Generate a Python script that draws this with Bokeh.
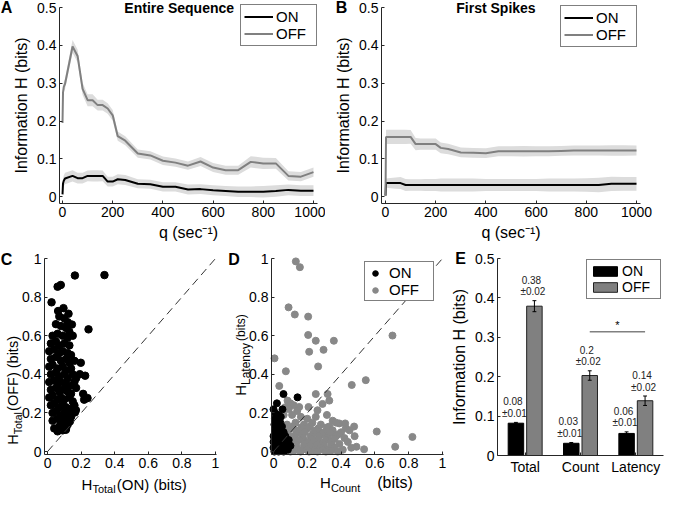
import numpy as np
from bokeh.plotting import figure
from bokeh.models import Range1d, FixedTicker, Label, Legend, LegendItem
from bokeh.layouts import row, column
from bokeh.embed import file_html
from bokeh.resources import INLINE
from bokeh.core.properties import value

FONT = "Liberation Sans"
AX = "#262626"
GRAY = "#808080"
DGRAY = "#888888"
BAND = "#dcdcdc"

# ---------------- data: panels A and B ----------------
q = [0, 2, 5, 10, 40, 60, 80, 100, 120, 140, 160, 180, 200, 220, 250, 300, 350,
     400, 450, 500, 550, 600, 650, 700, 750, 800, 850, 900, 950, 1000]
a_off = [0.195, 0.275, 0.29, 0.298, 0.397, 0.372, 0.285, 0.255, 0.255, 0.242,
         0.242, 0.233, 0.215, 0.160, 0.148, 0.114, 0.109, 0.095, 0.090, 0.082,
         0.093, 0.077, 0.070, 0.070, 0.092, 0.088, 0.088, 0.055, 0.053, 0.065]
a_off_sem = [0.008, 0.012, 0.013, 0.014, 0.017, 0.017, 0.016, 0.016, 0.016, 0.014,
             0.014, 0.014, 0.014, 0.012, 0.012, 0.011, 0.011, 0.011, 0.011, 0.011,
             0.012, 0.012, 0.012, 0.012, 0.015, 0.015, 0.014, 0.012, 0.012, 0.012]
a_on = [0.006, 0.035, 0.042, 0.048, 0.055, 0.049, 0.049, 0.055, 0.055, 0.055,
        0.055, 0.040, 0.040, 0.046, 0.044, 0.034, 0.033, 0.026, 0.026, 0.019,
        0.020, 0.017, 0.015, 0.013, 0.013, 0.013, 0.015, 0.018, 0.016, 0.016]
a_on_sem = [0.005, 0.012, 0.014, 0.015, 0.015, 0.014, 0.014, 0.014, 0.015, 0.015,
            0.014, 0.013, 0.013, 0.013, 0.013, 0.012, 0.012, 0.012, 0.012, 0.013,
            0.013, 0.013, 0.013, 0.014, 0.014, 0.015, 0.015, 0.014, 0.014, 0.014]
b_off = [0.002, 0.158, 0.158, 0.158, 0.158, 0.158, 0.158, 0.158, 0.139, 0.139,
         0.139, 0.139, 0.139, 0.129, 0.126, 0.117, 0.116, 0.115, 0.120, 0.120,
         0.120, 0.120, 0.120, 0.121, 0.122, 0.122, 0.122, 0.122, 0.122, 0.122]
b_off_sem = [0.003, 0.019, 0.019, 0.019, 0.019, 0.019, 0.019, 0.018, 0.016, 0.015,
             0.015, 0.015, 0.015, 0.014, 0.014, 0.013, 0.013, 0.013, 0.013, 0.013,
             0.014, 0.013, 0.013, 0.013, 0.013, 0.013, 0.013, 0.014, 0.014, 0.013]
b_on = [0.003, 0.036, 0.036, 0.036, 0.036, 0.036, 0.031, 0.031, 0.031, 0.031,
        0.031, 0.031, 0.031, 0.031, 0.031, 0.031, 0.031, 0.031, 0.031, 0.031,
        0.031, 0.031, 0.031, 0.031, 0.031, 0.031, 0.031, 0.034, 0.034, 0.034]
b_on_sem = [0.003, 0.012, 0.012, 0.013, 0.015, 0.016, 0.016, 0.015, 0.015, 0.015,
            0.016, 0.016, 0.016, 0.017, 0.017, 0.017, 0.017, 0.016, 0.016, 0.016,
            0.016, 0.016, 0.017, 0.017, 0.017, 0.018, 0.019, 0.019, 0.018, 0.018]
q_ticks = [0, 200, 400, 600, 800, 1000]
q_labels = ["0", "200", "400", "600", "800", "1000"]
h_ticks = [0, 0.1, 0.2, 0.3, 0.4, 0.5]
h_labels = ["0", "0.1", "0.2", "0.3", "0.4", "0.5"]
u_ticks = [0, 0.2, 0.4, 0.6, 0.8, 1]
u_labels = ["0", "0.2", "0.4", "0.6", "0.8", "1"]
diag = [0, 1]

# ---------------- data: panel C (H_Total ON vs OFF) ----------------
c_iso_x = [0.163, 0.339, 0.060, 0.079, 0.024, 0.063, 0.095, 0.125, 0.145, 0.244, 0.198,
           0.192, 0.224, 0.212, 0.238, 0.218, 0.169, 0.163, 0.133, 0.109, 0.060]
c_iso_y = [0.912, 0.914, 0.854, 0.863, 0.773, 0.728, 0.743, 0.714, 0.658, 0.633, 0.460,
           0.401, 0.393, 0.299, 0.277, 0.269, 0.215, 0.203, 0.156, 0.113, 0.105]
c_cl_x = [0.07, 0.10, 0.12, 0.05, 0.08, 0.11, 0.13, 0.03, 0.06, 0.09, 0.12, 0.15,
          0.02, 0.05, 0.07, 0.10, 0.13, 0.01, 0.04, 0.07, 0.09, 0.12, 0.14,
          0.02, 0.05, 0.08, 0.11, 0.13, 0.16, 0.01, 0.03, 0.06, 0.09, 0.11, 0.14,
          0.02, 0.05, 0.07, 0.10, 0.12, 0.15, 0.17, 0.01, 0.04, 0.06, 0.08, 0.11, 0.13, 0.16,
          0.02, 0.05, 0.07, 0.09, 0.12, 0.14, 0.17, 0.01, 0.03, 0.06, 0.08, 0.10, 0.13, 0.15,
          0.02, 0.04, 0.07, 0.09, 0.11, 0.13, 0.16, 0.03, 0.05, 0.08, 0.10, 0.12, 0.14,
          0.03, 0.06, 0.08, 0.10, 0.12, 0.04, 0.07, 0.09, 0.11]
c_cl_y = [0.70, 0.69, 0.67, 0.66, 0.65, 0.64, 0.62, 0.60, 0.61, 0.60, 0.59, 0.60,
          0.56, 0.57, 0.55, 0.56, 0.55, 0.52, 0.53, 0.51, 0.52, 0.51, 0.50,
          0.48, 0.49, 0.47, 0.48, 0.46, 0.47, 0.44, 0.45, 0.43, 0.44, 0.42, 0.43,
          0.40, 0.41, 0.39, 0.40, 0.38, 0.40, 0.38, 0.36, 0.37, 0.35, 0.36, 0.35, 0.34, 0.36,
          0.32, 0.33, 0.31, 0.32, 0.31, 0.30, 0.33, 0.28, 0.29, 0.27, 0.28, 0.27, 0.28, 0.26,
          0.24, 0.25, 0.23, 0.24, 0.23, 0.22, 0.24, 0.20, 0.21, 0.19, 0.20, 0.19, 0.18,
          0.16, 0.17, 0.15, 0.16, 0.14, 0.12, 0.13, 0.11, 0.12]

# ---------------- data: panel D (H_Count vs H_Latency) ----------------
d_on_x = [0.059, 0.142, 0.000, 0.020, 0.053, 0.043, 0.010, 0.005, 0.020, 0.035, 0.050,
          0.010, 0.030, 0.045, 0.060, 0.000, 0.015, 0.030, 0.050, 0.065, 0.010, 0.025,
          0.040, 0.055, 0.000, 0.015, 0.030, 0.045, 0.060, 0.005, 0.070, 0.080, 0.020,
          0.040, 0.000, 0.070, 0.090, 0.100, 0.085, 0.025, 0.008]
d_on_y = [0.298, 0.281, 0.219, 0.250, 0.219, 0.180, 0.200, 0.140, 0.130, 0.120, 0.130,
          0.110, 0.100, 0.090, 0.100, 0.080, 0.070, 0.060, 0.070, 0.060, 0.040, 0.030,
          0.040, 0.030, 0.020, 0.010, 0.000, 0.010, 0.000, 0.000, 0.020, 0.040, 0.160,
          0.150, 0.050, 0.080, 0.060, 0.030, 0.010, 0.190, 0.170]
d_off_iso_x = [0.132, 0.156, 0.089, 0.126, 0.205, 0.205, 0.211, 0.250, 0.296, 0.357, 0.704,
               0.264, 0.006, 0.073, 0.034, 0.463, 0.546, 0.250, 0.320, 0.611, 0.822, 0.720,
               0.536, 0.491, 0.428, 0.477, 0.389, 0.424]
d_off_iso_y = [0.985, 0.955, 0.747, 0.710, 0.699, 0.604, 0.517, 0.574, 0.527, 0.574, 0.601,
               0.441, 0.483, 0.416, 0.340, 0.345, 0.370, 0.298, 0.298, 0.104, 0.076, 0.025,
               0.012, 0.025, 0.121, 0.130, 0.146, 0.146]
d_off_mid_x = [0.152, 0.207, 0.290, 0.260, 0.330, 0.316, 0.162, 0.083, 0.100, 0.120, 0.070,
               0.090, 0.140, 0.060, 0.110, 0.200, 0.250, 0.350]
d_off_mid_y = [0.231, 0.231, 0.247, 0.214, 0.264, 0.190, 0.180, 0.264, 0.250, 0.240, 0.230,
               0.220, 0.210, 0.190, 0.190, 0.170, 0.180, 0.160]
d_off_cl_x = [0.08, 0.13, 0.18, 0.23, 0.28, 0.33, 0.37,
              0.065, 0.115, 0.165, 0.215, 0.265, 0.315,
              0.05, 0.10, 0.15, 0.20, 0.25, 0.30, 0.35, 0.40, 0.45,
              0.085, 0.135, 0.185, 0.235, 0.285, 0.335, 0.385,
              0.07, 0.12, 0.17, 0.22, 0.27, 0.32, 0.37, 0.42, 0.48,
              0.075, 0.125, 0.175, 0.225, 0.265, 0.31, 0.36,
              0.05, 0.10, 0.15, 0.20, 0.24, 0.29, 0.34, 0.39, 0.44,
              0.085, 0.135, 0.185, 0.215, 0.255, 0.30, 0.345,
              0.08, 0.13, 0.18, 0.23, 0.28, 0.32, 0.36, 0.41, 0.46,
              0.12, 0.145, 0.195, 0.245, 0.29, 0.34,
              0.10, 0.16, 0.21, 0.26, 0.31, 0.38]
d_off_cl_y = [0.14, 0.15, 0.14, 0.15, 0.14, 0.13, 0.15,
              0.125, 0.13, 0.125, 0.13, 0.12, 0.125,
              0.11, 0.12, 0.11, 0.12, 0.11, 0.10, 0.11, 0.10, 0.11,
              0.095, 0.095, 0.10, 0.095, 0.09, 0.095, 0.09,
              0.08, 0.08, 0.09, 0.08, 0.08, 0.07, 0.08, 0.07, 0.08,
              0.065, 0.065, 0.07, 0.065, 0.065, 0.06, 0.065,
              0.05, 0.05, 0.06, 0.05, 0.05, 0.04, 0.05, 0.04, 0.05,
              0.035, 0.035, 0.04, 0.03, 0.035, 0.03, 0.035,
              0.02, 0.02, 0.03, 0.01, 0.02, 0.01, 0.02, 0.01, 0.02,
              0.005, 0.01, 0.01, 0.005, 0.01, 0.005,
              0.0, 0.0, 0.0, 0.0, 0.0, 0.0]

# ---------------- data: panel E ----------------
categories = ["Total", "Count", "Latency"]
on_mean = [0.082, 0.031, 0.056]
on_sem = [0.002, 0.002, 0.004]
off_mean = [0.379, 0.203, 0.139]
off_sem = [0.014, 0.012, 0.012]
on_txt = ["0.08", "0.03", "0.06"]
on_pm = ["\u00b10.01", "\u00b10.01", "\u00b10.01"]
off_txt = ["0.38", "0.2", "0.14"]
off_pm = ["\u00b10.02", "\u00b10.02", "\u00b10.02"]
sig_pair = (1, 2)
sig_y = 0.314

# ---------------- helpers ----------------
WID = {'H': 722, 'T': 611, 'o': 556, 't': 278, 'a': 556, 'l': 222, '(': 333, ')': 333,
       'O': 778, 'N': 722, 'F': 611, ' ': 278, 'b': 556, 'i': 222, 's': 500, 'C': 722,
       'u': 556, 'n': 556, 'L': 556, 'e': 556, 'c': 500, 'y': 500}
LIMS = {}


def tw(s, size):
    return sum(WID.get(ch, 556) for ch in s) * size / 1000.0


def make_panel(fw, fh, box, xlim, ylim):
    """Figure whose frame is the whole canvas; the axes sit at fixed data positions."""
    l, t, r, b = box
    sx = (r - l) / (xlim[1] - xlim[0])
    sy = (b - t) / (ylim[1] - ylim[0])
    xr = (xlim[0] - l / sx, xlim[1] + (fw - r) / sx)
    yr = (ylim[0] - (fh - b) / sy, ylim[1] + t / sy)
    p = figure(x_range=Range1d(*xr), y_range=Range1d(*yr), frame_width=fw, frame_height=fh,
               min_border=0, output_backend="svg", toolbar_location=None, tools="",
               background_fill_color="white", border_fill_color="white")
    p.outline_line_color = None
    p.xgrid.visible = False
    p.ygrid.visible = False
    p.xaxis.fixed_location = ylim[0]
    p.xaxis.bounds = tuple(xlim)
    p.yaxis.fixed_location = xlim[0]
    p.yaxis.bounds = tuple(ylim)
    LIMS[p.id] = (xlim, ylim)
    return p


def style_axes(p, xt, xl, yt, yl):
    p.xaxis.ticker = FixedTicker(ticks=xt)
    p.xaxis.major_label_overrides = dict(zip(xt, xl))
    p.yaxis.ticker = FixedTicker(ticks=yt)
    p.yaxis.major_label_overrides = dict(zip(yt, yl))
    for ax in p.xaxis + p.yaxis:
        ax.axis_line_color = AX
        ax.axis_line_width = 1
        ax.major_tick_line_color = AX
        ax.major_tick_in = 3
        ax.major_tick_out = 0
        ax.minor_tick_line_color = None
        ax.major_label_text_font = FONT
        ax.major_label_text_font_size = "14px"
        ax.major_label_text_color = "black"
        ax.major_label_standoff = 3
        ax.axis_label_text_font = FONT
        ax.axis_label_text_font_size = "16px"
        ax.axis_label_text_font_style = "normal"
        ax.axis_label_text_color = "black"
        ax.axis_label_standoff = 4


def letter(p, t, xo, yo):
    xlim, ylim = LIMS[p.id]
    p.add_layout(Label(x=xlim[0], y=ylim[1], x_offset=xo, y_offset=yo, text=t,
                       text_font=FONT, text_font_size="16px", text_font_style="bold",
                       text_align="center", text_baseline="middle", text_color="black"))


def sub_label(p, parts, x, y, x_off, y_off, rotated):
    """parts: (text, font px, baseline drop px, gap before px)"""
    total = sum(tw(t, s) + g for t, s, _, g in parts)
    pos = -total / 2.0
    for t, s, sh, g in parts:
        pos += g
        kw = dict(x=x, y=y, text=t, text_font=FONT, text_font_size=f"{s}px",
                  text_color="black", text_align="left", text_baseline="alphabetic")
        if rotated:
            lab = Label(x_offset=x_off + sh, y_offset=y_off + pos, angle=np.pi / 2, **kw)
        else:
            lab = Label(x_offset=x_off + pos, y_offset=y_off - sh, **kw)
        p.add_layout(lab)
        pos += tw(t, s)


def style_legend(lg, **kw):
    lg.label_text_font = FONT
    lg.label_text_font_size = "15px"
    lg.label_text_color = "black"
    lg.border_line_color = "black"
    lg.border_line_width = 1
    lg.background_fill_color = "white"
    lg.background_fill_alpha = 1.0
    for k, v in kw.items():
        setattr(lg, k, v)


def line_panel(fw, box, xlim, on, on_sem, off, off_sem, title, title_x, let, let_xo, leg_loc):
    p = make_panel(fw, 243, box, xlim, (-0.018, 0.5))
    on_a, ons = np.array(on), np.array(on_sem)
    off_a, offs = np.array(off), np.array(off_sem)
    p.varea(x=q, y1=off_a - offs, y2=off_a + offs, fill_color=BAND)
    p.varea(x=q, y1=on_a - ons, y2=on_a + ons, fill_color=BAND)
    r_on = p.line(q, on, line_color="black", line_width=2)
    r_off = p.line(q, off, line_color=GRAY, line_width=2)
    style_axes(p, q_ticks, q_labels, h_ticks, h_labels)
    p.yaxis.axis_label = "Information H (bits)"
    p.xaxis.axis_label = "q (sec\u207b\u00b9)"
    lg = Legend(items=[LegendItem(label="ON", renderers=[r_on]),
                       LegendItem(label="OFF", renderers=[r_off])], location=leg_loc)
    style_legend(lg, padding=3, spacing=0, glyph_width=29, glyph_height=15, label_height=15,
                 label_standoff=3, label_width=37, margin=0)
    p.add_layout(lg)
    p.add_layout(Label(x=title_x, y=0.5, text=title, text_font=FONT,
                       text_font_size="14px", text_font_style="bold", text_align="center",
                       text_baseline="middle", text_color="black"))
    letter(p, let, let_xo, 0)
    return p


# ---------------- panel A & B ----------------
pa = line_panel(325, (59, 7, 317, 203), (-12, 1016), a_on, a_on_sem, a_off, a_off_sem,
                "Entire Sequence", 465, "A", -53, (240, 197))
pb = line_panel(339, (56, 7, 315, 203), (-16, 1016), b_on, b_on_sem, b_off, b_off_sem,
                "First Spikes", 440, "B", -40, (235, 196))

# ---------------- panel C ----------------
pc = make_panel(221, 252, (44, 15, 216, 211), (-0.018, 1.006), (-0.015, 1.0))
c_x = c_iso_x + c_cl_x
c_y = c_iso_y + c_cl_y
pc.scatter(c_x, c_y, size=7.5, fill_color="black", line_color="black")
pc.line(diag, diag, line_color="#333333", line_width=1, line_dash="8 5")
style_axes(pc, u_ticks, u_labels, u_ticks, u_labels)
sub_label(pc, [("H", 15, 0, 0), ("Total", 11, 4, 0), ("(ON) (bits)", 15, 0, 0)],
          0.516, -0.015, 0, -30, False)
sub_label(pc, [("H", 14.5, 0, 0), ("Total", 10.5, 5, 0), ("(OFF) (bits)", 14.5, 0, 0)],
          -0.018, 0.317, -32, 0, True)
letter(pc, "C", -38, -1)

# ---------------- panel D ----------------
pd_ = make_panel(227, 252, (50, 15, 222, 211), (-0.012, 1.006), (-0.015, 1.0))
d_off_x = d_off_iso_x + d_off_mid_x + d_off_cl_x
d_off_y = d_off_iso_y + d_off_mid_y + d_off_cl_y
r_doff = pd_.scatter(d_off_x, d_off_y, size=7, fill_color=DGRAY, line_color=DGRAY)
r_don = pd_.scatter(d_on_x, d_on_y, size=7, fill_color="black", line_color="black")
pd_.line(diag, diag, line_color="#333333", line_width=1, line_dash="8 5")
style_axes(pd_, u_ticks, u_labels, u_ticks, u_labels)
lgd = Legend(items=[LegendItem(label="ON", renderers=[r_don]),
                    LegendItem(label="OFF", renderers=[r_doff])], location=(143, 194))
style_legend(lgd, padding=2, spacing=0, glyph_width=16, glyph_height=14, label_height=14,
             label_standoff=6, label_width=42, margin=0)
pd_.add_layout(lgd)
sub_label(pd_, [("H", 15, 0, 0), ("Count", 11, 5, 0), ("(bits)", 16, 0, 17)],
          0.55, -0.015, 0, -28, False)
sub_label(pd_, [("H", 15, 0, 0), ("Latency", 12, 5, 0), ("(bits)", 12, 0, 2)],
          -0.012, 0.50, -31, 0, True)
letter(pd_, "D", -37.5, -1)

# ---------------- panel E ----------------
pe = make_panel(216, 252, (49, 15, 215, 212), (0.5, 3.5), (0, 0.5))
cat_pos = np.arange(1, len(categories) + 1)
x_on = cat_pos - 0.167
x_off = cat_pos + 0.167
onm, onse = np.array(on_mean), np.array(on_sem)
offm, offse = np.array(off_mean), np.array(off_sem)
r_eon = pe.vbar(x=x_on, top=on_mean, width=0.28, fill_color="black", line_color="black")
r_eoff = pe.vbar(x=x_off, top=off_mean, width=0.28, fill_color=GRAY, line_color="#222222")
for xx, m, s in ((x_on, onm, onse), (x_off, offm, offse)):
    pe.segment(x0=xx, y0=m - s, x1=xx, y1=m + s, line_color="black", line_width=1)
    pe.segment(x0=xx - 0.035, y0=m + s, x1=xx + 0.035, y1=m + s, line_color="black", line_width=1)
    pe.segment(x0=xx - 0.035, y0=m - s, x1=xx + 0.035, y1=m - s, line_color="black", line_width=1)
for xx, m, s, t1, t2 in ((x_on, onm, onse, on_txt, on_pm), (x_off, offm, offse, off_txt, off_pm)):
    pe.text(x=xx, y=m + s, text=t1, x_offset=-3, y_offset=-21, text_font=value(FONT),
            text_font_size=value("10px"), text_align="center", text_baseline="middle",
            text_color="#222222")
    pe.text(x=xx, y=m + s, text=t2, x_offset=-1.5, y_offset=-9, text_font=value(FONT),
            text_font_size=value("10px"), text_align="center", text_baseline="middle",
            text_color="#222222")
sx = [x_off[sig_pair[0]], x_off[sig_pair[1]]]
pe.line(sx, [sig_y, sig_y], line_color=GRAY, line_width=1.5)
pe.text(x=[float(np.mean(sx))], y=[sig_y], text=["*"], y_offset=-1, text_font=value(FONT),
        text_font_size=value("11px"), text_align="center", text_baseline="bottom",
        text_color="black")
style_axes(pe, list(cat_pos.tolist()), categories, h_ticks, h_labels)
pe.yaxis.axis_label = "Information H (bits)"
lge = Legend(items=[LegendItem(label="ON", renderers=[r_eon]),
                    LegendItem(label="OFF", renderers=[r_eoff])], location=(138, 196))
style_legend(lge, padding=3, spacing=0, glyph_width=30, glyph_height=12, label_height=13,
             label_standoff=2, label_width=35, margin=0, label_text_font_size="14px")
pe.add_layout(lge)
letter(pe, "E", -37, 0.5)

layout = column(row(pa, pb, spacing=0), row(pc, pd_, pe, spacing=0), spacing=0)
open("out.html", "w").write(file_html(layout, INLINE))
